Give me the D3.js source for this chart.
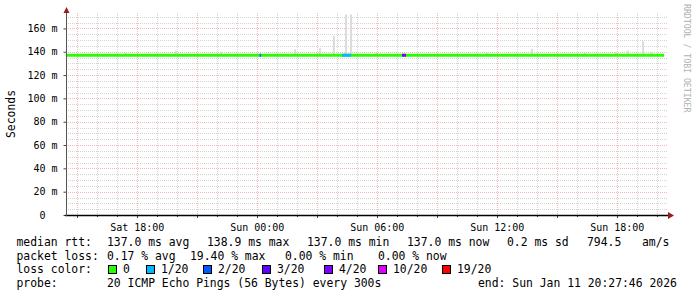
<!DOCTYPE html>
<html>
<head>
<meta charset="utf-8">
<script src="https://cdn.jsdelivr.net/npm/d3@7"></script>
<style>
  body { margin: 0; background: #fff; }
  svg text { font-family: "DejaVu Sans Mono", monospace; white-space: pre; }
</style>
</head>
<body>
<div id="chart"></div>
<script>
// time window of the graph (UTC used as wall clock)
var startTime = new Date(Date.UTC(2026, 0, 10, 14, 27, 46));
var endTime = new Date(Date.UTC(2026, 0, 11, 20, 27, 46));
var lastSample = new Date(Date.UTC(2026, 0, 11, 20, 22, 0));

var medianRtt = 137.0;  // ms

// smoke spikes: time and max rtt (ms)
var smokeTimes = ["2026-01-10T17:25", "2026-01-10T19:55", "2026-01-10T22:10", "2026-01-11T01:52",
  "2026-01-11T03:07", "2026-01-11T03:49", "2026-01-11T04:25", "2026-01-11T04:40",
  "2026-01-11T05:55", "2026-01-11T11:28", "2026-01-11T13:43", "2026-01-11T16:22",
  "2026-01-11T17:55", "2026-01-11T18:31", "2026-01-11T19:16", "2026-01-11T19:40"];
var smokeMax = [139.5, 141, 140, 142, 143, 153.5, 172, 172, 139, 139, 142.5, 139, 140, 141, 149, 140];

// loss periods on the median line
var lossStart = ["2026-01-11T00:07", "2026-01-11T00:10", "2026-01-11T04:16", "2026-01-11T07:16", "2026-01-11T07:22"];
var lossEnd = ["2026-01-11T00:10", "2026-01-11T00:13", "2026-01-11T04:43", "2026-01-11T07:22", "2026-01-11T07:28"];
var lossLevel = ["1/20", "2/20", "1/20", "3/20", "4/20"];

var lossLabels = ["0", "1/20", "2/20", "3/20", "4/20", "10/20", "19/20"];
var lossColors = ["#26ff00", "#00b8ff", "#0059ff", "#5e00ff", "#7e00ff", "#dd00ff", "#ff0000"];

var yTicks = [0, 20, 40, 60, 80, 100, 120, 140, 160];

var rttStats = ["137.0 ms avg", "138.9 ms max", "137.0 ms min", "137.0 ms now", "0.2 ms sd", "794.5", "am/s"];
var lossStats = ["0.17 % avg", "19.40 % max", "0.00 % min", "0.00 % now"];
var probeText = "20 ICMP Echo Pings (56 Bytes) every 300s";
var endText = "end: Sun Jan 11 20:27:46 2026";

var parseT = d3.utcParse("%Y-%m-%dT%H:%M");

var svg = d3.select("#chart").append("svg")
  .attr("width", 697)
  .attr("height", 297);

var plotLeft = 66, plotRight = 666, plotBottom = 215, plotTop = 15;

var x = d3.scaleUtc().domain([startTime, endTime]).range([plotLeft, plotRight]);
var y = d3.scaleLinear().domain([0, 171.5]).range([plotBottom, plotTop]);

var gridG = svg.append("g");
var majorColor = "#f2b8b8", minorColor = "#d4d4d4";

// horizontal grid
d3.range(5, 171, 5).forEach(function(v) {
  var major = v % 20 === 0;
  var yy = Math.round(y(v)) + 0.5;
  gridG.append("line")
    .attr("x1", plotLeft).attr("x2", 668)
    .attr("y1", yy).attr("y2", yy)
    .attr("stroke", major ? majorColor : minorColor)
    .attr("stroke-dasharray", "1,1")
    .attr("shape-rendering", "crispEdges");
});

// vertical grid, every hour, red every 3 hours
var hours = d3.utcHour.range(d3.utcHour.ceil(startTime), endTime);
hours.forEach(function(h) {
  var major = h.getUTCHours() % 3 === 0;
  var xx = Math.round(x(h)) + 0.5;
  gridG.append("line")
    .attr("x1", xx).attr("x2", xx)
    .attr("y1", 13).attr("y2", plotBottom)
    .attr("stroke", major ? majorColor : minorColor)
    .attr("stroke-dasharray", "1,1")
    .attr("shape-rendering", "crispEdges");
  svg.append("line")
    .attr("x1", xx).attr("x2", xx)
    .attr("y1", plotBottom).attr("y2", plotBottom + (major ? 3 : 2))
    .attr("stroke", "#444")
    .attr("shape-rendering", "crispEdges");
});

// smoke
var smoke = smokeTimes.map(function(t, i) { return { t: parseT(t), v: smokeMax[i] }; });
svg.append("g").selectAll("rect")
  .data(smoke)
  .enter()
  .append("rect")
  .attr("x", d => Math.round(x(d.t)))
  .attr("width", d => Math.max(2, Math.round(x(d3.utcMinute.offset(d.t, 5)) - x(d.t))))
  .attr("y", d => y(d.v))
  .attr("height", d => y(medianRtt) - y(d.v))
  .attr("fill", "#dcdcdc");

// median line
svg.append("line")
  .attr("x1", x(startTime)).attr("x2", x(lastSample))
  .attr("y1", y(medianRtt)).attr("y2", y(medianRtt))
  .attr("stroke", lossColors[0])
  .attr("stroke-width", 3);

var lossSegs = lossStart.map(function(s, i) {
  return { s: parseT(s), e: parseT(lossEnd[i]), c: lossColors[lossLabels.indexOf(lossLevel[i])] };
});
svg.append("g").selectAll("line")
  .data(lossSegs)
  .enter()
  .append("line")
  .attr("x1", d => x(d.s)).attr("x2", d => x(d.e))
  .attr("y1", y(medianRtt)).attr("y2", y(medianRtt))
  .attr("stroke", d => d.c)
  .attr("stroke-width", 3);

// axes
var yAxis = d3.axisLeft(y)
  .tickValues(yTicks)
  .tickSize(3)
  .tickPadding(6)
  .tickFormat(d => d === 0 ? "0  " : d + " m");
var yAxisG = svg.append("g")
  .attr("transform", "translate(" + (plotLeft + 0.5) + ",0)")
  .call(yAxis);
yAxisG.select(".domain").remove();
yAxisG.selectAll("line").attr("stroke", "#444");
yAxisG.selectAll("text")
  .attr("font-size", "10px")
  .attr("font-family", "DejaVu Sans Mono")
  .attr("fill", "#000");

var xAxis = d3.axisBottom(x)
  .ticks(d3.utcHour.every(6))
  .tickSize(0)
  .tickPadding(9)
  .tickFormat(d3.utcFormat("%a %H:%M"));
var xAxisG = svg.append("g")
  .attr("transform", "translate(0," + plotBottom + ")")
  .call(xAxis);
xAxisG.select(".domain").remove();
xAxisG.selectAll("text")
  .attr("font-size", "10px")
  .attr("font-family", "DejaVu Sans Mono")
  .attr("fill", "#000");

svg.append("line")
  .attr("x1", plotLeft - 1).attr("x2", 669)
  .attr("y1", plotBottom + 0.5).attr("y2", plotBottom + 0.5)
  .attr("stroke", "#000").attr("stroke-width", 1.5);
svg.append("line")
  .attr("x1", plotLeft + 0.5).attr("x2", plotLeft + 0.5)
  .attr("y1", plotBottom + 1).attr("y2", 11)
  .attr("stroke", "#555");

svg.append("path")
  .attr("d", "M668,212 L674,215.5 L668,219 Z")
  .attr("fill", "#9b1c1c");
svg.append("path")
  .attr("d", "M63.5,13 L66.5,7 L69.5,13 Z")
  .attr("fill", "#9b1c1c");

// titles
svg.append("text")
  .attr("transform", "translate(15,114) rotate(-90)")
  .attr("text-anchor", "middle")
  .attr("font-size", "11.4px")
  .text("Seconds");

svg.append("text")
  .attr("transform", "translate(684,4) rotate(90)")
  .attr("font-size", "8.2px")
  .attr("fill", "#b0b0b0")
  .text("RRDTOOL / TOBI OETIKER");

// legend
var fs = "11.4px";
var rowY = [246, 259.5, 273, 286.5];
var labelX = 16.5;
var rttX = [107, 207, 307, 407, 507, 587, 642];
var lossX = [107, 190, 285, 378];
var boxX = [108, 146, 203, 262, 324, 378, 442];

var leg = svg.append("g").attr("font-size", fs).attr("fill", "#000");

leg.append("text").attr("x", labelX).attr("y", rowY[0]).text("median rtt:");
leg.selectAll(".rtt").data(rttStats).enter().append("text")
  .attr("class", "rtt")
  .attr("x", (d, i) => rttX[i]).attr("y", rowY[0]).text(d => d);

leg.append("text").attr("x", labelX).attr("y", rowY[1]).text("packet loss:");
leg.selectAll(".loss").data(lossStats).enter().append("text")
  .attr("class", "loss")
  .attr("x", (d, i) => lossX[i]).attr("y", rowY[1]).text(d => d);

leg.append("text").attr("x", labelX).attr("y", rowY[2]).text("loss color:");
leg.selectAll(".box").data(lossLabels).enter().append("rect")
  .attr("class", "box")
  .attr("x", (d, i) => boxX[i] + 0.5).attr("y", rowY[2] - 7.5)
  .attr("width", 8).attr("height", 8)
  .attr("fill", (d, i) => lossColors[i])
  .attr("stroke", "#000");
leg.selectAll(".boxlab").data(lossLabels).enter().append("text")
  .attr("class", "boxlab")
  .attr("x", (d, i) => boxX[i] + 15).attr("y", rowY[2]).text(d => d);

leg.append("text").attr("x", labelX).attr("y", rowY[3]).text("probe:");
leg.append("text").attr("x", 107).attr("y", rowY[3]).text(probeText);
leg.append("text").attr("x", 478).attr("y", rowY[3]).text(endText);
</script>
</body>
</html>
